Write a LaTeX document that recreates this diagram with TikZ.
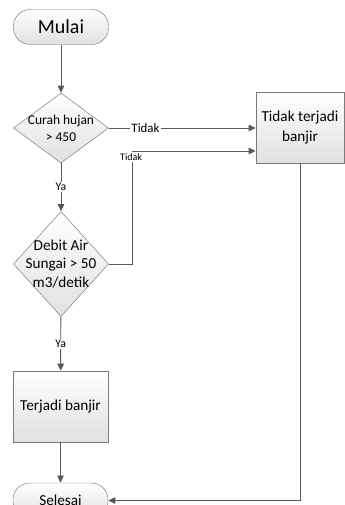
\documentclass[tikz,border=0pt]{standalone}
\usepackage{fontspec}
\setmainfont{Carlito}
\usetikzlibrary{arrows.meta,shapes.geometric,calc}
\definecolor{lineColor}{HTML}{595959}
\definecolor{boxColor}{HTML}{7A7A7A}
\tikzset{
	proc/.style={draw=boxColor, top color=white, bottom color=black!12, minimum width=2.85cm, minimum height=2.13cm, align=center, font=\fontsize{13}{16.5}\selectfont},
	term/.style={draw=boxColor, rounded corners=5mm, top color=white, bottom color=black!12, minimum width=2.85cm, minimum height=1.05cm},
	dec/.style={draw=boxColor, diamond, top color=white, bottom color=black!12, minimum width=2.85cm, inner sep=0pt},
	conn/.style={draw=lineColor, line width=0.8pt, -{Triangle[length=6pt,width=5.5pt]}},
	lab/.style={fill=white, inner sep=1pt, font=\fontsize{10}{12}\selectfont}
}

\begin{document}
\begin{tikzpicture}[x=0.03cm, y=-0.03cm]
	\useasboundingbox (0,0) rectangle (345,505);
	\node[term, font=\fontsize{17}{20}\selectfont] (mulai) at (61,27) {Mulai};
	\node[dec, minimum height=2.1cm] (d1) at (61,128) {};
	\node[align=center, inner sep=0, font=\fontsize{11.5}{14.5}\selectfont] (d1t) at (61,128) {Curah hujan\\> 450};
	\node[dec, minimum height=3.15cm] (d2) at (61,264) {};
	\node[align=center, inner sep=0, font=\fontsize{13}{16}\selectfont] (d2t) at (61,264) {Debit Air\\Sungai > 50\\m3/detik};
	\node[proc, minimum width=2.64cm] (t1) at (300,127.5) {Tidak terjadi\\banjir};
	\node[proc] (t2) at (60.5,406.5) {Terjadi banjir};
	\node[term, font=\fontsize{13}{16}\selectfont] (selesai) at (60.5,500.5) {Selesai};
	\coordinate (c1) at (132,151);
	
	\draw[conn] (mulai) -- (d1);
	\draw[conn] (d1.east) -- node[lab, pos=0.25, font=\fontsize{11}{13}\selectfont] {Tidak} (d1.east -| t1.west);
	\draw[conn] (d1) -- node[lab] {Ya} (d2);
	\draw[conn] (d2.east) -| (c1) -- (c1 -| t1.west);
	\node[lab, font=\fontsize{8.5}{10}\selectfont] (tdk2) at (131,157) {Tidak};
	\draw[conn] (d2) -- node[lab] {Ya} (t2);
	\draw[conn] (t2) -- (selesai);
	\draw[conn] (t1.south) |- (selesai.east);
\end{tikzpicture}
\end{document}
